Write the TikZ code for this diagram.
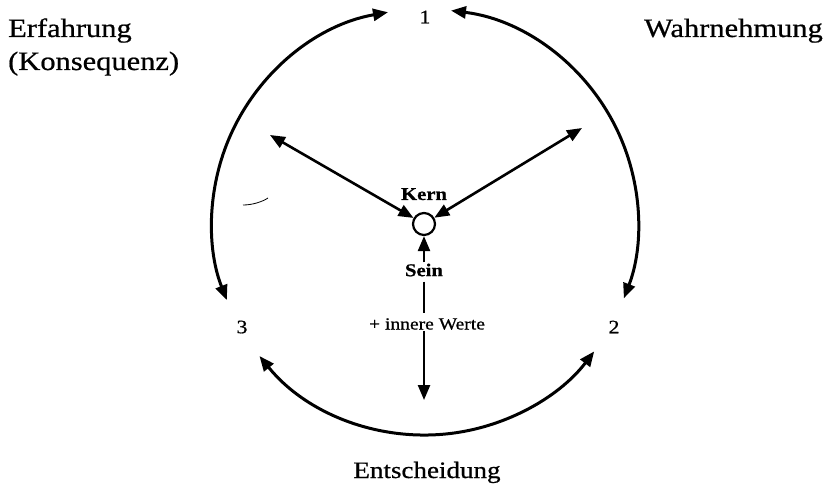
\documentclass[tikz,border=0pt]{standalone}
\usepackage{fontspec}
\newfontfamily\reffont{Liberation Serif}[FakeStretch=1.15,FakeBold=0.7]
\usetikzlibrary{arrows.meta}
\begin{document}
\begin{tikzpicture}[x=1pt,y=1pt,
  tip/.tip={Triangle[length=15pt,width=12pt]},
  bigarc/.style={line width=3pt,{tip}-{tip}},
  spoke/.style={line width=2.6pt,{tip}-{tip}},
  vline/.style={line width=2.4pt},
  biglabel/.style={font=\reffont\fontsize{26.5}{32}\selectfont,inner sep=0pt},
  botlabel/.style={font=\reffont\fontsize{23.5}{28}\selectfont,inner sep=0pt},
  num/.style={font=\reffont\fontsize{19}{23}\selectfont,inner sep=0pt},
  small/.style={font=\reffont\fontsize{17}{21}\selectfont,inner sep=1pt},
  smallbold/.style={font=\reffont\fontsize{18}{22}\selectfont\bfseries,inner sep=1pt},
  kern/.style={circle,draw,line width=2.2pt,minimum size=22pt,inner sep=0pt}
]
\useasboundingbox (0,0) rectangle (829,488);
\coordinate (C) at (425,266);
% labels
\node[biglabel,anchor=base west] (erf) at (8,451) {Erfahrung};
\node[biglabel,anchor=base west] (kons) at (8,418) {(Konsequenz)};
\node[biglabel,anchor=base east] (wahr) at (823,451) {Wahrnehmung};
\node[botlabel,anchor=base] (ents) at (427,10) {Entscheidung};
% numbers
\node[num] (n1) at (425,471) {1};
\node[num] (n2) at (614,161) {2};
\node[num] (n3) at (242,161) {3};
% outer arcs
\coordinate (la) at ([shift={(100:213)}]C);
\draw[bigarc] (la) arc[start angle=100,end angle=201.5,radius=213];
\coordinate (ra) at ([shift={(83:213)}]C);
\draw[bigarc] (ra) arc[start angle=83,end angle=-21,radius=213];
\coordinate (ba) at ([shift={(219:213)}]C);
\draw[bigarc] (ba) arc[start angle=219,end angle=322.6,radius=213];
% core
\node[kern] (K) at (424,264) {};
\node[smallbold,anchor=base] (kernl) at (424,288) {Kern};
\coordinate (tl) at (270,353);
\coordinate (tr) at (582,360);
\draw[spoke] (K) -- (tl);
\draw[spoke] (K) -- (tr);
\node[smallbold] (sein) at (424,218) {Sein};
\node[small] (werte) at (427,164) {+ innere Werte};
\coordinate (down) at (424,88);
\draw[vline,-{tip}] (sein) -- (K);
\draw[vline,shorten <=4pt,shorten >=4pt] (sein.south) -- (sein.south |- werte.north);
\draw[vline,-{tip}] (sein.south |- werte.south) -- (down);
% scan mark
\draw[line width=0.8pt] (243,283) .. controls (252,283) and (262,286) .. (268,290);
\end{tikzpicture}
\end{document}
